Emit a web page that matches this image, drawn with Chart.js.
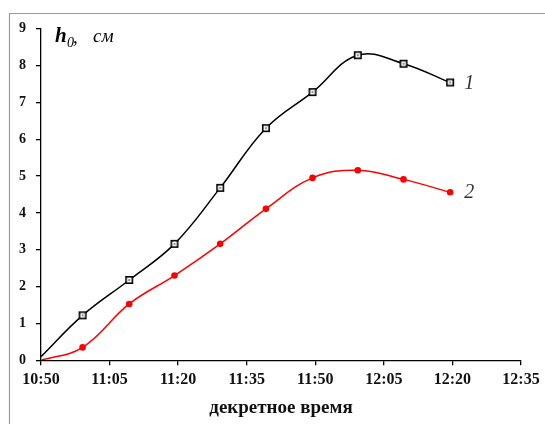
<!DOCTYPE html>
<html>
<head>
<meta charset="utf-8">
<script src="https://cdn.jsdelivr.net/npm/chart.js@4"></script>
<style>
  body { margin: 0; background: #fff; }
  canvas { display: block; }
</style>
</head>
<body>
<canvas id="hChart" width="545" height="424"></canvas>
<script>
// time in minutes after 10:50
const minutes = [0, 9.1, 19.3, 29.2, 39.2, 49.2, 59.4, 69.3, 79.3, 89.5];
const series1 = [0.1, 1.22, 2.18, 3.16, 4.68, 6.30, 7.28, 8.28, 8.05, 7.54];
const series2 = [0, 0.35, 1.53, 2.30, 3.16, 4.11, 4.95, 5.16, 4.91, 4.56];
const timeLabels = ['10:50', '11:05', '11:20', '11:35', '11:50', '12:05', '12:20', '12:35'];
const seriesNames = ['1', '2'];

const serif = '"Liberation Serif", "Times New Roman", serif';

// hollow square with a dot in the middle
function squareMarker() {
    const c = document.createElement('canvas');
    c.width = 10;
    c.height = 10;
    const g = c.getContext('2d');
    g.fillStyle = '#fff';
    g.fillRect(1, 1, 8, 8);
    g.strokeStyle = '#000';
    g.lineWidth = 1.6;
    g.strokeRect(1.8, 1.8, 6.4, 6.4);
    g.fillStyle = '#222';
    g.fillRect(4.3, 4.3, 1.4, 1.4);
    return c;
}
const marker = squareMarker();

const toPoints = values => values.map((v, i) => ({ x: minutes[i], y: v }));

const extras = {
    id: 'extras',
    beforeDraw(chart) {
        const ctx = chart.ctx;
        ctx.save();
        ctx.strokeStyle = '#9a9a9a';
        ctx.lineWidth = 1.2;
        ctx.beginPath();
        ctx.moveTo(9.5, 424);
        ctx.lineTo(9.5, 13.5);
        ctx.lineTo(545, 13.5);
        ctx.stroke();
        ctx.restore();
    },
    afterDatasetsDraw(chart) {
        const ctx = chart.ctx;
        ctx.save();
        ctx.fillStyle = '#333';
        ctx.textBaseline = 'middle';
        ctx.font = 'italic 20px ' + serif;
        chart.data.datasets.forEach((ds, i) => {
            const pts = chart.getDatasetMeta(i).data;
            const last = pts[pts.length - 1];
            ctx.fillText(seriesNames[i], last.x + 14, last.y + (i === 0 ? 1.5 : 0));
        });

        // axis caption h0, см
        ctx.fillStyle = '#000';
        ctx.textBaseline = 'alphabetic';
        ctx.font = 'bold italic 21px ' + serif;
        ctx.fillText('h', 55, 42);
        ctx.font = 'italic 14px ' + serif;
        ctx.fillText('0', 67, 47);
        ctx.font = 'italic 19px ' + serif;
        ctx.fillText(',', 73, 43);
        ctx.fillText('см', 93, 42);
        ctx.restore();
    }
};

new Chart(document.getElementById('hChart'), {
    type: 'line',
    data: {
        datasets: [
            {
                label: seriesNames[0],
                data: toPoints(series1),
                borderColor: '#000',
                borderWidth: 1.5,
                tension: 0.4,
                pointStyle: marker,
                pointRadius: ctx => ctx.dataIndex === 0 ? 0 : 4
            },
            {
                label: seriesNames[1],
                data: toPoints(series2),
                borderColor: '#ff0000',
                backgroundColor: '#ff0000',
                borderWidth: 1.5,
                tension: 0.4,
                pointStyle: 'circle',
                pointBorderWidth: 0,
                pointRadius: ctx => ctx.dataIndex === 0 ? 0 : 3.3
            }
        ]
    },
    options: {
        responsive: false,
        animation: false,
        devicePixelRatio: 1,
        layout: {
            padding: { left: 0, right: 24, top: 28.7, bottom: 0 }
        },
        plugins: {
            legend: { display: false },
            tooltip: { enabled: false }
        },
        scales: {
            x: {
                type: 'linear',
                min: 0,
                max: 105,
                afterFit: scale => { scale.height = 63.7; },
                afterBuildTicks: scale => {
                    scale.ticks = timeLabels.map((t, i) => ({ value: i * 15 }));
                },
                ticks: {
                    color: '#111',
                    padding: 5,
                    maxRotation: 0,
                    font: { family: serif, size: 16, weight: 'bold' },
                    callback: (v, i) => timeLabels[i]
                },
                grid: {
                    drawOnChartArea: false,
                    tickLength: 5,
                    color: '#000',
                    lineWidth: 1.3
                },
                border: { color: '#000', width: 1.3 },
                title: {
                    display: true,
                    text: 'декретное время',
                    color: '#111',
                    font: { family: serif, size: 19, weight: 'bold' },
                    padding: { top: 0, bottom: 5 }
                }
            },
            y: {
                min: 0,
                max: 9,
                afterFit: scale => { scale.width = 41; },
                ticks: {
                    stepSize: 1,
                    color: '#111',
                    padding: 10,
                    font: { family: serif, size: 14, weight: 'bold' }
                },
                grid: {
                    drawOnChartArea: false,
                    tickLength: 5,
                    color: '#000',
                    lineWidth: 1.3
                },
                border: { color: '#000', width: 1.3 }
            }
        }
    },
    plugins: [extras]
});
</script>
</body>
</html>
